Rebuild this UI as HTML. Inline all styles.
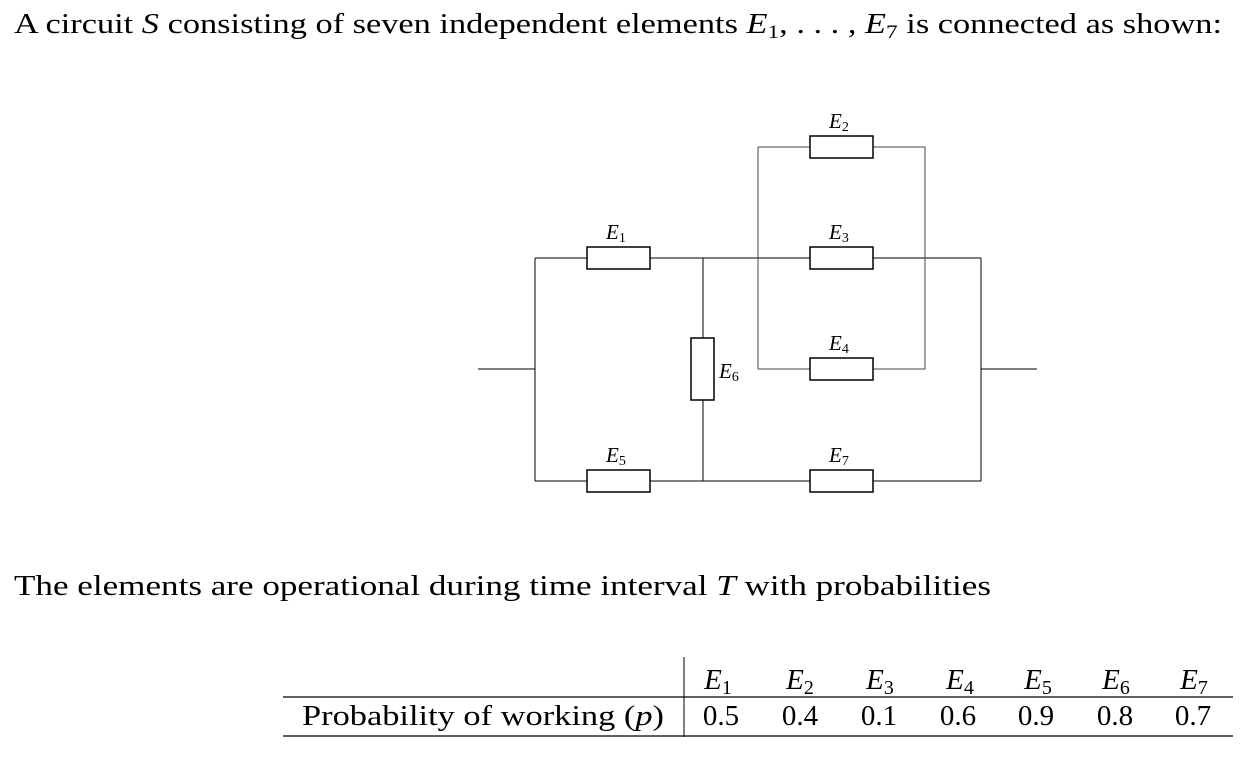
<!DOCTYPE html>
<html><head><meta charset="utf-8"><style>
html,body{margin:0;padding:0;background:#fff}
svg{display:block}
text{font-family:"Liberation Serif",serif;fill:#000}
.i{font-style:italic}
</style></head><body>
<svg width="1256" height="764" viewBox="0 0 1256 764">
<text x="14" y="33" font-size="28" textLength="1208" lengthAdjust="spacingAndGlyphs">A circuit <tspan class="i">S</tspan> consisting of seven independent elements <tspan class="i">E</tspan><tspan font-size="19" dy="5">1</tspan><tspan dy="-5">, . . . , </tspan><tspan class="i">E</tspan><tspan font-size="19" dy="5">7</tspan><tspan dy="-5"> is connected as shown:</tspan></text>

<g stroke="#000" stroke-width="1" fill="none">
<path d="M478 369H535M535 258V481M535 258H587M650 258H810M873 258H981M535 481H587M650 481H810M873 481H981M981 258V481M981 369H1037M703 258V338M703 400V481"/>
<path d="M758 147H810M873 147H925V369H873M810 369H758V147" stroke="#444"/>
<rect x="587" y="247" width="63" height="22" stroke-width="1.5" fill="#fff"/>
<rect x="810" y="136" width="63" height="22" stroke-width="1.5" fill="#fff"/>
<rect x="810" y="247" width="63" height="22" stroke-width="1.5" fill="#fff"/>
<rect x="810" y="358" width="63" height="22" stroke-width="1.5" fill="#fff"/>
<rect x="587" y="470" width="63" height="22" stroke-width="1.5" fill="#fff"/>
<rect x="691" y="338" width="23" height="62" stroke-width="1.5" fill="#fff"/>
<rect x="810" y="470" width="63" height="22" stroke-width="1.5" fill="#fff"/>
</g>
<g font-size="21">
<text x="606" y="239" class="i">E<tspan font-size="14" dy="3" font-style="normal">1</tspan></text>
<text x="829" y="128" class="i">E<tspan font-size="14" dy="3" font-style="normal">2</tspan></text>
<text x="829" y="239" class="i">E<tspan font-size="14" dy="3" font-style="normal">3</tspan></text>
<text x="829" y="350" class="i">E<tspan font-size="14" dy="3" font-style="normal">4</tspan></text>
<text x="606" y="462" class="i">E<tspan font-size="14" dy="3" font-style="normal">5</tspan></text>
<text x="719" y="378" class="i">E<tspan font-size="14" dy="3" font-style="normal">6</tspan></text>
<text x="829" y="462" class="i">E<tspan font-size="14" dy="3" font-style="normal">7</tspan></text>
</g>

<text x="14" y="595" font-size="28" textLength="977" lengthAdjust="spacingAndGlyphs">The elements are operational during time interval <tspan class="i">T</tspan> with probabilities</text>

<g>
<line x1="684" y1="657" x2="684" y2="737" stroke="#000" stroke-width="1"/>
<line x1="283" y1="697" x2="1233" y2="697" stroke="#000" stroke-width="1.3"/>
<line x1="283" y1="736" x2="1233" y2="736" stroke="#000" stroke-width="1.3"/>
<text x="302" y="725" font-size="29" textLength="362" lengthAdjust="spacingAndGlyphs">Probability of working (<tspan class="i">p</tspan>)</text>
<g font-size="29" text-anchor="middle">
<text x="718" y="689" class="i">E<tspan font-size="20" dy="5" font-style="normal">1</tspan></text>
<text x="800" y="689" class="i">E<tspan font-size="20" dy="5" font-style="normal">2</tspan></text>
<text x="880" y="689" class="i">E<tspan font-size="20" dy="5" font-style="normal">3</tspan></text>
<text x="960" y="689" class="i">E<tspan font-size="20" dy="5" font-style="normal">4</tspan></text>
<text x="1038" y="689" class="i">E<tspan font-size="20" dy="5" font-style="normal">5</tspan></text>
<text x="1116" y="689" class="i">E<tspan font-size="20" dy="5" font-style="normal">6</tspan></text>
<text x="1194" y="689" class="i">E<tspan font-size="20" dy="5" font-style="normal">7</tspan></text>
<text x="721" y="725">0.5</text>
<text x="800" y="725">0.4</text>
<text x="879" y="725">0.1</text>
<text x="958" y="725">0.6</text>
<text x="1036" y="725">0.9</text>
<text x="1115" y="725">0.8</text>
<text x="1193" y="725">0.7</text>
</g>
</g>
</svg>
</body></html>
